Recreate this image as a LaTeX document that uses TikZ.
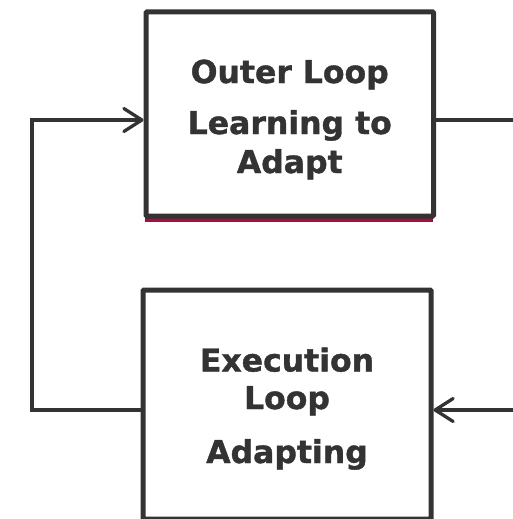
\documentclass[tikz,border=0pt]{standalone}
\usepackage{fontspec}
\setmainfont{DejaVu Sans}[BoldFeatures={FakeBold=1.2}]
\usetikzlibrary{arrows.meta}
\definecolor{ink}{HTML}{333333}
\definecolor{accent}{RGB}{165,15,60}
\tikzset{
  loopbox/.style={draw=ink, line width=5pt, rounded corners=1pt, fill=white, inner sep=0pt},
  caption/.style={text=ink, font=\bfseries\fontsize{31.5}{38}\selectfont, inner sep=0pt, anchor=base},
  conn/.style={draw=ink, line width=3.3pt},
  chevron/.style={-{Straight Barb[length=18pt, width=23pt, round]}},
}
\begin{document}
\begin{tikzpicture}[x=1pt, y=-1pt]
  \useasboundingbox (0,0) rectangle (513,519);

  % accent strip under the outer-loop box
  \fill[accent] (145,218.3) rectangle (432.7,222);

  % the two loop boxes
  \node[loopbox, minimum width=287.5pt, minimum height=204pt] (outer) at (289.75,114) {};
  \node[loopbox, minimum width=288pt, minimum height=229pt] (exec) at (287,404.5) {};

  % box captions, set on their baselines
  \node[caption] (outerA) at ([yshift=31pt]outer.center) {Outer Loop};
  \node[caption] (outerB) at ([yshift=-20pt]outer.center) {Learning to};
  \node[caption] (outerC) at ([yshift=-59pt]outer.center) {Adapt};
  \node[caption] (execA) at ([yshift=33pt]exec.center) {Execution};
  \node[caption] (execB) at ([yshift=-4.5pt]exec.center) {Loop};
  \node[caption] (execC) at ([yshift=-58.5pt]exec.center) {Adapting};

  % corners and free ends of the connectors
  \coordinate (lowleft) at (32,410);
  \coordinate (upleft) at (32,120);
  \coordinate (outright) at (513,120);
  \coordinate (inright) at (513,410);

  % feedback path from the execution loop back into the outer loop
  \draw[conn, chevron, line join=miter] (exec.west |- lowleft) -- (lowleft) -- (upleft) -- (outer.west |- upleft);
  % outgoing line from the outer loop
  \draw[conn] (outer.east |- outright) -- (outright);
  % incoming line into the execution loop
  \draw[conn, chevron] (inright) -- (exec.east |- inright);
\end{tikzpicture}
\end{document}
